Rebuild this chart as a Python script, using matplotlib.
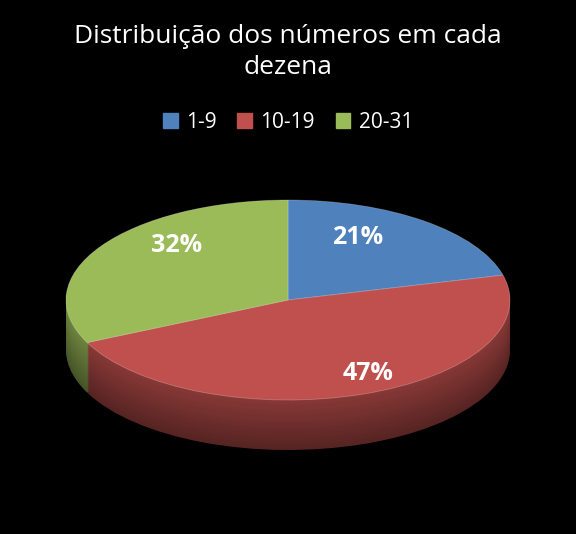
import numpy as np
import matplotlib.pyplot as plt
from matplotlib.colors import to_rgb

labels = ["1-9", "10-19", "20-31"]
values = [21, 47, 32]
colors = ["#4F81BD", "#C0504D", "#9BBB59"]
label_pos = [(0.315, 0.63), (0.36, -0.73), (-0.5, 0.55)]

plt.rcParams["font.family"] = ["Open Sans", "DejaVu Sans"]

fig = plt.figure(figsize=(5.76, 5.34), dpi=100, facecolor="black")
W, H = 576, 534
ax = fig.add_axes([66 / W, 1 - 470 / H, 444 / W, 320 / H])
ax.set_facecolor("black")

# side of the 3D pie: stacked darker copies shifted down
depth = 0.5
for k, dy in enumerate(np.linspace(-depth, -0.02, 25)):
    f = 0.45 + 0.25 * k / 24
    dark = [tuple(c * f for c in to_rgb(col)) for col in colors]
    ax.pie(values, colors=dark, startangle=90, counterclock=False,
           center=(0, dy), radius=1, wedgeprops=dict(linewidth=0))

wedges, texts, autotexts = ax.pie(
    values, colors=colors, startangle=90, counterclock=False,
    autopct="%1.0f%%", pctdistance=0.7, radius=1,
    wedgeprops=dict(linewidth=0.6, edgecolor=(1, 1, 1, 0.25)),
    textprops=dict(color="white", fontsize=18, fontweight="bold"))
for t, p in zip(autotexts, label_pos):
    t.set_position(p)

ax.set_aspect("auto")
ax.set_xlim(-1, 1)
ax.set_ylim(-1.7, 1.5)
ax.axis("off")

fig.text(0.5, 1 - 52 / H, "Distribuição dos números em cada\ndezena", ha="center",
         va="center", color="white", fontsize=19, linespacing=1.35)

handles = [plt.Rectangle((0, 0), 1, 1, color=c) for c in colors]
fig.legend(handles, labels, loc="center", bbox_to_anchor=(0.5, 1 - 122 / H),
           ncol=3, frameon=False, labelcolor="white", fontsize=15,
           handlelength=0.7, handleheight=0.7, handletextpad=0.4, columnspacing=1.0)

fig.savefig("out.png", dpi=100, facecolor="black")
